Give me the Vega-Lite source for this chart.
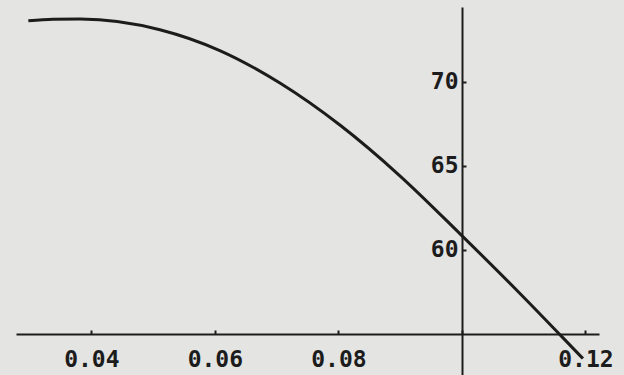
{
  "$schema": "https://vega.github.io/schema/vega-lite/v6.json",
  "width": 583,
  "height": 368,
  "autosize": {"type": "none"},
  "padding": {"left": 16, "top": 7, "right": 25, "bottom": 0},
  "background": "#e4e4e2",
  "config": {"view": {"stroke": null}},
  "data": {"values": [
    {"x": 0.0298, "y": 73.63},
    {"x": 0.0338, "y": 73.72},
    {"x": 0.0382, "y": 73.74},
    {"x": 0.0511, "y": 73.10},
    {"x": 0.0608, "y": 71.86},
    {"x": 0.0706, "y": 69.91},
    {"x": 0.0803, "y": 67.41},
    {"x": 0.0900, "y": 64.39},
    {"x": 0.0997, "y": 60.95},
    {"x": 0.1094, "y": 57.40},
    {"x": 0.1191, "y": 53.72},
    {"x": 0.1196, "y": 53.53}
  ]},
  "mark": {"type": "line", "interpolate": "monotone", "color": "#1c1c1c", "strokeWidth": 3},
  "encoding": {
    "x": {
      "field": "x", "type": "quantitative",
      "scale": {"domain": [0.0278, 0.1222], "nice": false, "zero": false},
      "axis": {
        "orient": "bottom", "offset": -41, "title": null,
        "values": [0.04, 0.06, 0.08, 0.1, 0.12],
        "labelExpr": "datum.value == 0.1 ? '' : format(datum.value, '.2f')",
        "grid": false, "domainColor": "#1c1c1c", "domainWidth": 2,
        "tickColor": "#1c1c1c", "tickWidth": 2, "tickSize": -4,
        "labelFont": "DejaVu Sans Mono", "labelFontSize": 23, "labelFontWeight": "bold",
        "labelColor": "#1c1c1c", "labelPadding": 18, "labelFlush": false, "labelOverlap": false
      }
    },
    "y": {
      "field": "y", "type": "quantitative",
      "scale": {"domain": [52.55, 74.45], "nice": false, "zero": false},
      "axis": {
        "orient": "left", "offset": -446, "title": null,
        "values": [60, 65, 70],
        "grid": false, "domainColor": "#1c1c1c", "domainWidth": 2,
        "tickColor": "#1c1c1c", "tickWidth": 2, "tickSize": -4,
        "labelFont": "DejaVu Sans Mono", "labelFontSize": 23, "labelFontWeight": "bold",
        "labelColor": "#1c1c1c", "labelPadding": 8, "labelFlush": false, "labelOverlap": false
      }
    }
  }
}
